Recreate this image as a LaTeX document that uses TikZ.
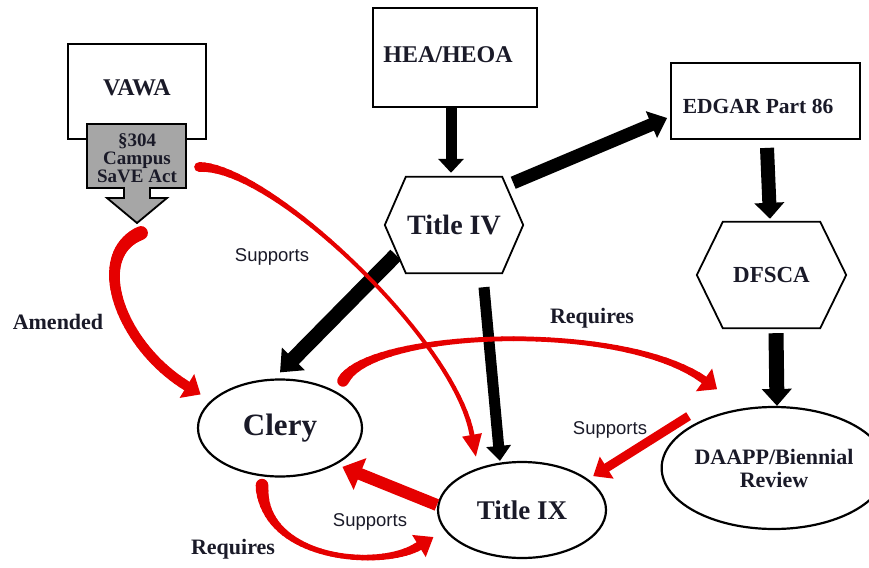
\documentclass[tikz,border=0pt]{standalone}
\usepackage{fontspec}
\setmainfont{Liberation Serif}
\newfontfamily\notefont{Liberation Sans}
\usetikzlibrary{arrows.meta,shapes.geometric,calc}
\definecolor{ink}{HTML}{1A1A28}
\definecolor{linkred}{HTML}{E50000}
\definecolor{actgray}{HTML}{A6A6A6}

% Tapered red connector along a cubic Bezier, ending in a filled head.
% #1 start, #2 #3 control points, #4 base of the head,
% #5 start width, #6 middle width, #7 end width, #8 head length, #9 half head width
\newcommand\taperlink[9]{%
  \coordinate (tpA) at (#1);
  \coordinate (tpB) at (#2);
  \coordinate (tpC) at (#3);
  \coordinate (tpD) at (#4);
  \foreach \k in {0,...,40}{%
    \pgfmathsetmacro\tpar{\k/40}%
    \path ($(tpA)!\tpar!(tpB)$) coordinate (bzA)
          ($(tpB)!\tpar!(tpC)$) coordinate (bzB)
          ($(tpC)!\tpar!(tpD)$) coordinate (bzC);
    \path ($(bzA)!\tpar!(bzB)$) coordinate (bzD)
          ($(bzB)!\tpar!(bzC)$) coordinate (bzE);
    \path ($(bzD)!\tpar!(bzE)$) coordinate (tp\k);
  }%
  \foreach \k [remember=\k as \kp (initially 0)] in {1,...,40}{%
    \pgfmathsetmacro\tmid{(\k-0.5)/40}%
    \pgfmathsetmacro\segw{#6+(#5-#6)*(1-\tmid)^4+(#7-#6)*\tmid^4}%
    \draw[linkred, line width=\segw pt, line cap=round] (tp\kp) -- (tp\k);
  }%
  \fill[linkred] ($(tpD)!-#8!(tpC)$) -- ($(tpD)!#9!90:(tpC)$) -- ($(tpD)!#9!-90:(tpC)$) -- cycle;
}

\begin{document}
\begin{tikzpicture}[x=1pt,y=-1pt,
  box/.style={draw=black, line width=1.8pt, inner sep=0pt},
  oval/.style={ellipse, draw=black, line width=2.2pt, inner sep=0pt},
  hexn/.style={inner sep=0pt},
  lbl/.style={text=ink, font=\bfseries\fontsize{#1}{#1}\selectfont},
  note/.style={text=ink, font=\notefont\fontsize{18.5}{18.5}\selectfont},
  blk/.style n args={3}{draw=black, line width=#1, -{Triangle[length=#2,width=#3]}},
  redl/.style n args={3}{draw=linkred, line width=#1, -{Triangle[length=#2,width=#3]}}
]
\useasboundingbox (0,0) rectangle (869,567);

% statute boxes
\node[box, minimum width=138pt, minimum height=95pt] (vawa) at (137,91.5) {};
\node[lbl={24}] (vawatext) at (137,88) {VAWA};
\node[box, minimum width=164pt, minimum height=99pt] (hea) at (455,57.5) {};
\node[lbl={24}] (heatext) at (448,55) {HEA/HEOA};
\node[box, minimum width=189pt, minimum height=76pt] (edgar) at (765.5,101) {};
\node[lbl={21.5}] (edgartext) at (758,106) {EDGAR Part 86};

% Campus SaVE Act callout below VAWA
\draw[fill=actgray, line width=1.8pt, line join=miter]
  (87,124) -- (186,124) -- (186,188) -- (150,188) -- (150,198) -- (167,198)
  -- (137,223) -- (107,198) -- (124,198) -- (124,188) -- (87,188) -- cycle;
\coordinate (savetip) at (137,223);
\coordinate (saveside) at (186,160);
\node[text=ink, align=center, font=\bfseries\fontsize{19}{18}\selectfont] (savetext) at (137,158) {\S304\\Campus\\SaVE Act};

% hexagons
\node[hexn, lbl={28}, minimum width=138pt, minimum height=96pt] (t4) at (454,225) {Title IV};
\draw[line width=1.8pt] (t4.west) -- ([xshift=21pt]t4.north west) -- ([xshift=-21pt]t4.north east)
  -- (t4.east) -- ([xshift=-21pt]t4.south east) -- ([xshift=21pt]t4.south west) -- cycle;
\node[hexn, lbl={23}, minimum width=149pt, minimum height=106pt] (dfsca) at (771.5,275) {DFSCA};
\draw[line width=1.8pt] (dfsca.west) -- ([xshift=26pt]dfsca.north west) -- ([xshift=-26pt]dfsca.north east)
  -- (dfsca.east) -- ([xshift=-26pt]dfsca.south east) -- ([xshift=26pt]dfsca.south west) -- cycle;

% ellipses
\node[oval, lbl={31}, minimum width=164pt, minimum height=97pt] (clery) at (280,428) {Clery};
\node[oval, lbl={27}, minimum width=168pt, minimum height=96pt] (titleix) at (522,510) {Title IX};
\node[oval, text=ink, align=center, font=\bfseries\fontsize{22}{23}\selectfont,
      minimum width=186pt, minimum height=122pt] (daapp) at (774,468) {DAAPP/Biennial\\Review};

% black connectors
\draw[blk={11pt}{14pt}{25pt}] ([xshift=-4pt]hea.south) -- ([xshift=-3pt,yshift=4pt]t4.north);
\draw[blk={13pt}{17pt}{28pt}] ([xshift=-10pt,yshift=-6pt]t4.north east) -- ([xshift=-3pt,yshift=-17pt]edgar.west);
\draw[blk={14pt}{16pt}{29pt}] ([xshift=1.5pt,yshift=-8pt]edgar.south) -- ([xshift=-1.5pt,yshift=3pt]dfsca.north);
\draw[blk={15pt}{17pt}{29pt}] ([xshift=4.5pt,yshift=-5pt]dfsca.south) -- ([xshift=3pt]daapp.north);
\draw[blk={15pt}{19pt}{31pt}] ([xshift=11pt,yshift=-30pt]t4.west) -- ([yshift=6pt]clery.north);
\draw[blk={11pt}{15pt}{24pt}] ([xshift=30pt,yshift=-14pt]t4.south) -- ([xshift=-22pt]titleix.north);

% red connectors
\draw[redl={9pt}{16pt}{25pt}] ([shift={(-9pt,6pt)}]daapp.149) -- ([shift={(5pt,3pt)}]titleix.25);
\draw[redl={12pt}{19pt}{33pt}] ([yshift=5pt]titleix.west) -- ([shift={(5pt,-3pt)}]clery.328.5);
\taperlink{[shift={(4pt,-10pt)}]savetip}{88,255}{120,345}{[shift={(-10pt,42pt)}]clery.west}{14}{10}{10}{16pt}{14pt}
\taperlink{[shift={(13pt,-7pt)}]saveside}{270,165}{455,340}{[shift={(-50pt,26pt)}]titleix.north}{10}{3.5}{5}{22pt}{10pt}
\taperlink{[shift={(63pt,-2.5pt)}]clery.north}{370,330}{620,320}{[shift={(-70pt,26pt)}]daapp.north}{12}{4}{8}{16pt}{14pt}
\taperlink{[shift={(-18pt,-7.5pt)}]clery.south}{262,560}{380,570}{[shift={(-18pt,-36pt)}]titleix.west}{13}{4.5}{9}{17pt}{13pt}

% connector labels
\node[lbl={22}] (amended) at (58,322) {Amended};
\node[note] (sup1) at (272,257) {Supports};
\node[lbl={22}] (req1) at (592,318) {Requires};
\node[note] (sup2) at (610,430) {Supports};
\node[note] (sup3) at (370,522) {Supports};
\node[lbl={22}] (req2) at (233,549) {Requires};
\end{tikzpicture}
\end{document}
